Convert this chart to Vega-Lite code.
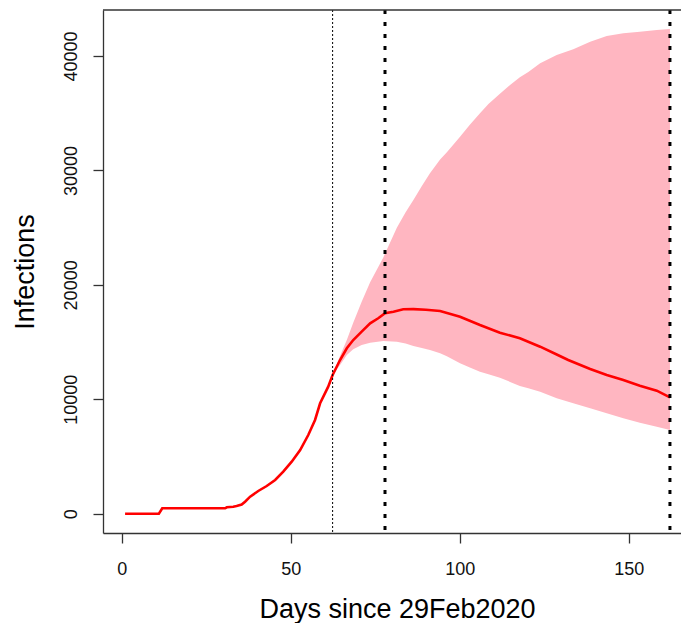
{
  "$schema": "https://vega.github.io/schema/vega-lite/v6.json",
  "autosize": {"type": "none"},
  "padding": {"left": 103, "top": 10, "right": 0, "bottom": 90},
  "width": 578,
  "height": 523,
  "background": "white",
  "config": {
    "view": {"stroke": null},
    "font": "Liberation Sans",
    "axis": {
      "domainColor": "#333", "domainWidth": 1.3,
      "tickColor": "#333", "tickWidth": 1.3, "tickSize": 10,
      "grid": false,
      "labelFont": "Liberation Sans", "labelFontSize": 18, "labelColor": "#111",
      "titleFont": "Liberation Sans", "titleFontSize": 27, "titleFontWeight": "normal", "titleColor": "#000",
      "labelOverlap": false, "labelFlush": false
    }
  },
  "datasets": {
    "line": [
      {"day": 1, "inf": 0}, {"day": 11, "inf": 0}, {"day": 12, "inf": 470},
      {"day": 30.6, "inf": 472}, {"day": 31.1, "inf": 560}, {"day": 33, "inf": 612},
      {"day": 34, "inf": 673}, {"day": 35.5, "inf": 800}, {"day": 36.5, "inf": 1050},
      {"day": 38, "inf": 1486}, {"day": 40.4, "inf": 1984}, {"day": 42.9, "inf": 2421},
      {"day": 45.4, "inf": 2945}, {"day": 47.8, "inf": 3671}, {"day": 50.3, "inf": 4545},
      {"day": 52.8, "inf": 5567}, {"day": 55.2, "inf": 6878}, {"day": 57.2, "inf": 8189},
      {"day": 58.7, "inf": 9650}, {"day": 61.1, "inf": 11100}, {"day": 62.4, "inf": 12122},
      {"day": 64.6, "inf": 13433}, {"day": 66.6, "inf": 14456}, {"day": 68.5, "inf": 15181},
      {"day": 71, "inf": 15907}, {"day": 73.5, "inf": 16641}, {"day": 75.9, "inf": 17078},
      {"day": 77.9, "inf": 17515}, {"day": 80.4, "inf": 17655}, {"day": 83.3, "inf": 17865},
      {"day": 86.3, "inf": 17880}, {"day": 90, "inf": 17830}, {"day": 94.2, "inf": 17717},
      {"day": 100.1, "inf": 17218}, {"day": 106, "inf": 16493}, {"day": 111.9, "inf": 15820},
      {"day": 117.8, "inf": 15330}, {"day": 123.8, "inf": 14596}, {"day": 128.7, "inf": 13910},
      {"day": 132.1, "inf": 13433}, {"day": 138.6, "inf": 12647}, {"day": 143.5, "inf": 12122},
      {"day": 148.4, "inf": 11685}, {"day": 153.3, "inf": 11187}, {"day": 158.3, "inf": 10750},
      {"day": 162.2, "inf": 10173}
    ],
    "band": [
      {"day": 62.4, "lo": 12122, "hi": 12122}, {"day": 64.5, "lo": 12950, "hi": 13714},
      {"day": 66.6, "lo": 13870, "hi": 15190}, {"day": 68.5, "lo": 14369, "hi": 16697},
      {"day": 71, "lo": 14744, "hi": 18533}, {"day": 73.5, "lo": 14945, "hi": 20233},
      {"day": 77.4, "lo": 15094, "hi": 22400}, {"day": 81.4, "lo": 15033, "hi": 25000},
      {"day": 84, "lo": 14870, "hi": 26350}, {"day": 86.3, "lo": 14657, "hi": 27418},
      {"day": 88.8, "lo": 14480, "hi": 28650}, {"day": 91.2, "lo": 14307, "hi": 29750},
      {"day": 94.2, "lo": 14019, "hi": 30950}, {"day": 96.2, "lo": 13760, "hi": 31600},
      {"day": 100.1, "lo": 13145, "hi": 32950}, {"day": 103, "lo": 12780, "hi": 34000},
      {"day": 106, "lo": 12411, "hi": 35000}, {"day": 108.5, "lo": 12180, "hi": 35800},
      {"day": 111.9, "lo": 11886, "hi": 36700}, {"day": 114.9, "lo": 11520, "hi": 37469},
      {"day": 117.8, "lo": 11161, "hi": 38150}, {"day": 120.3, "lo": 10960, "hi": 38600},
      {"day": 123.8, "lo": 10663, "hi": 39365}, {"day": 128.7, "lo": 10086, "hi": 40091},
      {"day": 133.6, "lo": 9650, "hi": 40589}, {"day": 138.6, "lo": 9213, "hi": 41253},
      {"day": 143.5, "lo": 8776, "hi": 41751}, {"day": 148.4, "lo": 8339, "hi": 41987},
      {"day": 153.3, "lo": 7954, "hi": 42127}, {"day": 158.3, "lo": 7605, "hi": 42275},
      {"day": 162.2, "lo": 7315, "hi": 42364}
    ],
    "thin": [{"day": 62.4}],
    "thick": [{"day": 77.9}, {"day": 162.2}]
  },
  "encoding": {
    "x": {
      "field": "day", "type": "quantitative",
      "scale": {"domain": [-5.53, 165.47], "nice": false, "zero": false},
      "axis": {
        "values": [0, 50, 100, 150], "title": "Days since 29Feb2020",
        "labelBaseline": "alphabetic", "labelPadding": 31,
        "titleBaseline": "alphabetic", "titleX": 294, "titleY": 84, "titleAnchor": "middle", "titleAlign": "center"
      }
    }
  },
  "layer": [
    {
      "data": {"name": "band"},
      "mark": {"type": "area", "color": "#FFB6C1", "opacity": 1},
      "encoding": {
        "y": {
          "field": "lo", "type": "quantitative",
          "scale": {"domain": [-1687, 44023], "nice": false, "zero": false},
          "axis": {
            "values": [0, 10000, 20000, 30000, 40000], "format": "d", "title": "Infections",
            "labelAngle": 270, "labelAlign": "center", "labelBaseline": "alphabetic", "labelPadding": 17,
            "titleAngle": 270, "titleBaseline": "alphabetic", "titleAlign": "center", "titleAnchor": "middle",
            "titleX": -70, "titleY": 261.5
          }
        },
        "y2": {"field": "hi"}
      }
    },
    {
      "data": {"name": "line"},
      "mark": {"type": "line", "color": "#FF0000", "strokeWidth": 2.6},
      "encoding": {"y": {"field": "inf", "type": "quantitative"}}
    },
    {
      "data": {"name": "thin"},
      "mark": {"type": "rule", "color": "#000", "strokeWidth": 1, "strokeDash": [2, 2]},
      "encoding": {}
    },
    {
      "data": {"name": "thick"},
      "mark": {"type": "rule", "color": "#000", "strokeWidth": 3, "strokeDash": [4, 8]},
      "encoding": {}
    },
    {
      "data": {"values": [{"t": 44023}]},
      "mark": {"type": "rule", "color": "#333", "strokeWidth": 1.3},
      "encoding": {"x": null, "y": {"field": "t", "type": "quantitative"}}
    }
  ]
}
